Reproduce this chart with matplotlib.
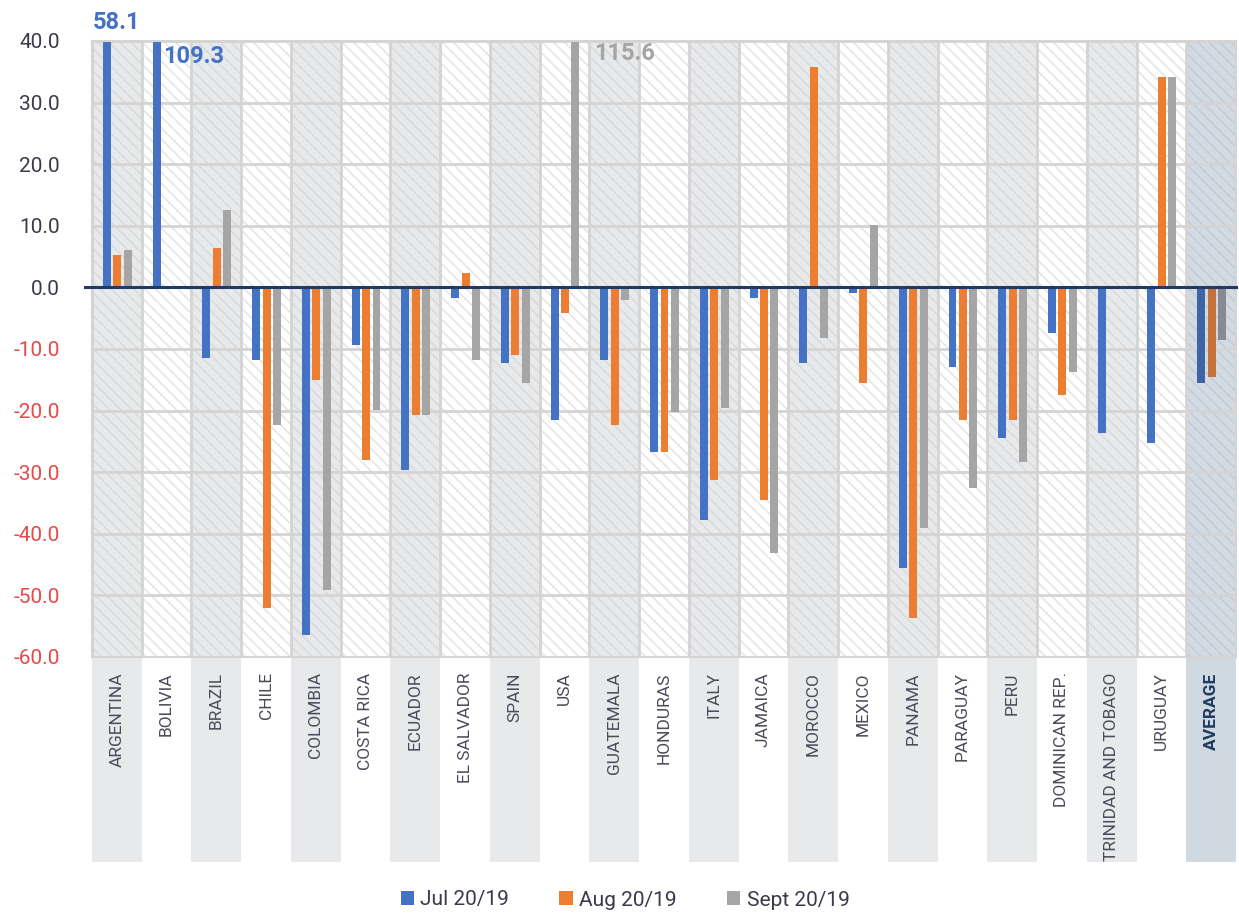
import numpy as np
import matplotlib
matplotlib.use("Agg")
import matplotlib.pyplot as plt
import matplotlib.transforms as mtransforms
from matplotlib.patches import Rectangle
from matplotlib import font_manager

# ---- data -------------------------------------------------------------
countries = ["ARGENTINA", "BOLIVIA", "BRAZIL", "CHILE", "COLOMBIA", "COSTA RICA",
             "ECUADOR", "EL SALVADOR", "SPAIN", "USA", "GUATEMALA", "HONDURAS",
             "ITALY", "JAMAICA", "MOROCCO", "MEXICO", "PANAMA", "PARAGUAY", "PERU",
             "DOMINICAN REP.", "TRINIDAD AND TOBAGO", "URUGUAY", "AVERAGE"]
series_names = ["Jul 20/19", "Aug 20/19", "Sept 20/19"]
jul = [58.1, 109.3, -11.4, -11.8, -56.5, -9.4, -29.7, -1.7, -12.2, -21.6, -11.8, -26.8,
       -37.8, -1.7, -12.2, -0.9, -45.6, -13.0, -24.4, -7.4, -23.6, -25.2, -15.5]
aug = [5.3, np.nan, 6.4, -52.0, -15.0, -28.0, -20.7, 2.4, -11.0, -4.1, -22.4, -26.8,
       -31.3, -34.5, 35.7, -15.5, -53.7, -21.6, -21.6, -17.5, np.nan, 34.1, -14.6]
sept = [6.1, np.nan, 12.5, -22.4, -49.2, -19.9, -20.7, -11.8, -15.5, 115.6, -2.1, -20.3,
        -19.5, -43.1, -8.2, 10.1, -39.1, -32.5, -28.4, -13.8, np.nan, 34.1, -8.5]
y_ticks = list(range(-60, 41, 10))
y_limits = (-60, 40)

# ---- style --------------------------------------------------------------
plt.rcParams['font.family'] = ['Roboto', 'DejaVu Sans']
plt.rcParams['hatch.linewidth'] = 1.1


def has_font(name):
    try:
        font_manager.findfont(font_manager.FontProperties(family=name),
                              fallback_to_default=False)
        return True
    except ValueError:
        return False


if has_font('Liberation Sans Narrow'):
    cat_family, cat_size = ['Liberation Sans Narrow', 'DejaVu Sans'], 14
else:
    cat_family, cat_size = ['Roboto', 'DejaVu Sans'], 12.5

series_colors = ['#4472c4', '#ed7d31', '#a5a5a5']
average_colors = ['#3e64a6', '#c6713a', '#878b91']
text_dark = '#3a3a4c'
neg_red = '#e94848'
grid_col = '#d4d4d4'
navy = '#1f3b63'

fig = plt.figure(figsize=(12.39, 9.15), dpi=100)
ax = fig.add_axes([92 / 1239, 1 - 657 / 915, 1144 / 1239, 616 / 915])

n = len(countries)
x = np.arange(n)
ax.set_xlim(-0.5, n - 0.5)
ax.set_ylim(*y_limits)

# alternating column bands (hatched inside the plot, flat under the labels)
below = mtransforms.blended_transform_factory(ax.transData, ax.transAxes)
for i in range(n):
    if i == n - 1:
        face, hatch_c, band = '#d3dae2', '#c3ccd6', '#d0d8e0'
    elif i % 2 == 0:
        face, hatch_c, band = '#e8e9eb', '#d9dadc', '#e8e9eb'
    else:
        face, hatch_c, band = 'white', '#e4e4e4', None
    ax.add_patch(Rectangle((i - 0.5, y_limits[0]), 1, y_limits[1] - y_limits[0],
                           facecolor=face, edgecolor=hatch_c, hatch='\\\\\\',
                           lw=0, zorder=0))
    if band:
        ax.add_patch(Rectangle((i - 0.5, -0.333), 1, 0.333, transform=below,
                               facecolor=band, lw=0, clip_on=False, zorder=0))

# grid
ax.set_axisbelow(True)
ax.set_yticks(y_ticks)
ax.yaxis.grid(True, color=grid_col, lw=2)
for i in range(n + 1):
    ax.axvline(i - 0.5, color=grid_col, lw=2, zorder=0.6)
for s in ax.spines.values():
    s.set_color(grid_col)
    s.set_linewidth(1.5)

# bars
offsets = [-0.2, 0.01, 0.22]
width = 0.16
containers = []
for k, vals in enumerate([jul, aug, sept]):
    vals = np.array(vals, dtype=float)
    cols = [series_colors[k]] * (n - 1) + [average_colors[k]]
    bc = ax.bar(x + offsets[k], vals, width, color=cols, zorder=2,
                label=series_names[k])
    containers.append(bc)

ax.axhline(0, color=navy, lw=2.2, zorder=3, xmin=-0.006, clip_on=False)

# values of bars running past the top of the scale
label_place = {
    (0, 0): dict(xytext=(7, 8.5), ha='center', va='baseline'),
    (0, 1): dict(xytext=(4.5, -3), ha='left', va='top'),
    (2, 9): dict(xytext=(13.5, -0.5), ha='left', va='top'),
}
for k, vals in enumerate([jul, aug, sept]):
    for i, v in enumerate(vals):
        if np.isfinite(v) and v > y_limits[1]:
            place = label_place.get((k, i), dict(xytext=(0, 4), ha='center', va='bottom'))
            ax.annotate(f"{v:.1f}", xy=(i + offsets[k], y_limits[1]),
                        textcoords='offset points', fontsize=17, fontweight='bold',
                        color=series_colors[k], annotation_clip=False, **place)

# axes text
ax.set_yticklabels([f"{t:.1f}" for t in y_ticks])
ax.tick_params(axis='y', length=0, pad=23, labelsize=15)
for t, lab in zip(y_ticks, ax.get_yticklabels()):
    lab.set_color(neg_red if t < 0 else text_dark)

ax.set_xticks(x)
ax.set_xticklabels(countries, rotation=90, va='top', ha='center')
ax.tick_params(axis='x', length=0, pad=11)
for i, lab in enumerate(ax.get_xticklabels()):
    lab.set_family(cat_family)
    lab.set_fontsize(cat_size)
    if i == n - 1:
        lab.set_fontweight('bold')
        lab.set_color(navy)
    else:
        lab.set_color('#4b4b5b')

leg = fig.legend(containers, series_names, loc='center',
                 bbox_to_anchor=(625 / 1239, 1 - 900 / 915), ncol=3, frameon=False,
                 fontsize=15, handlelength=0.65, handleheight=0.65,
                 handletextpad=0.3, columnspacing=2.4)
for t in leg.get_texts():
    t.set_color(text_dark)

fig.savefig("out.png", dpi=100)
